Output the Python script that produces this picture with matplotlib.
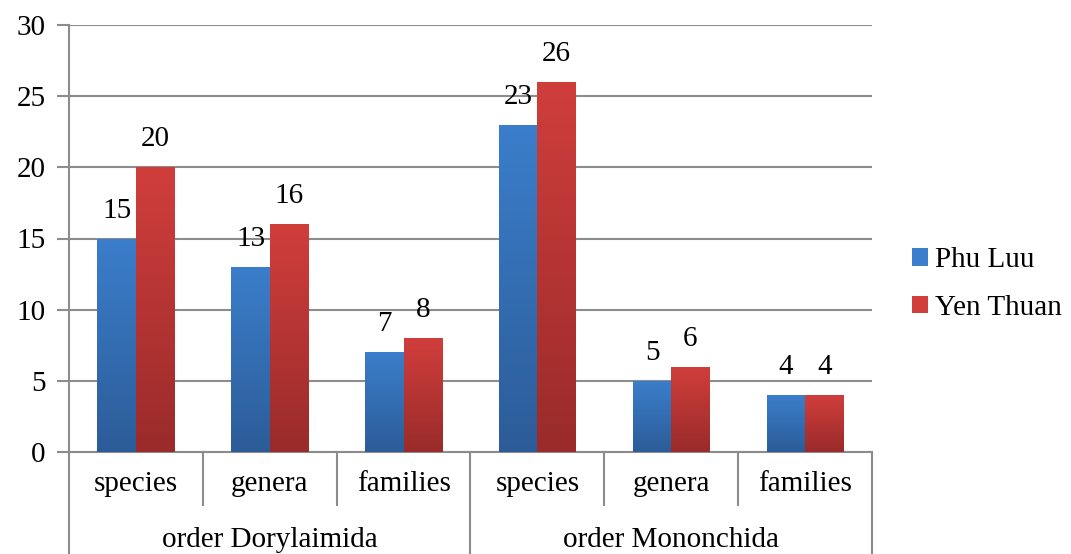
#!/usr/bin/env python3

import matplotlib.pyplot as plt
import numpy as np
from matplotlib.colors import LinearSegmentedColormap
from matplotlib.patches import Patch

plt.rcParams['font.family'] = 'serif'
plt.rcParams['font.serif'] = ['Liberation Serif', 'DejaVu Serif']

SUBCATS = ['species', 'genera', 'families', 'species', 'genera', 'families']
GROUPS = ['order Dorylaimida', 'order Mononchida']
SERIES = ['Phu Luu', 'Yen Thuan']
PHU_LUU = [15, 13, 7, 23, 5, 4]
YEN_THUAN = [20, 16, 8, 26, 6, 4]

# top / bottom colours of the bar gradients
COLORS = [('#3b7ecb', '#2c5c98'), ('#d03e3c', '#992b2a')]
GRID = '#8c8c8c'
FS = 21
FONT = 'Liberation Serif'

fig = plt.figure(figsize=(10.71, 5.54), dpi=100)
ax = fig.add_axes([69 / 1071, 102 / 554, 803 / 1071, 427 / 554])

x = np.arange(len(SUBCATS))
w = 0.2875

grad = np.linspace(0, 1, 256).reshape(-1, 1)
for i, (vals, (top, bot)) in enumerate(zip([PHU_LUU, YEN_THUAN], COLORS)):
    offs = (i - 0.5) * w
    bars = ax.bar(x + offs, vals, w, color='none', edgecolor='none', zorder=3)
    cmap = LinearSegmentedColormap.from_list('g%d' % i, [bot, top])
    for b, v in zip(bars, vals):
        x0, y0 = b.get_x(), b.get_y()
        im = ax.imshow(grad, cmap=cmap, origin='lower', aspect='auto',
                       extent=(x0, x0 + b.get_width(), y0, y0 + b.get_height()),
                       zorder=3)
        im.set_clip_path(b)
        ax.annotate(str(v), (b.get_x() + b.get_width() / 2, v),
                    xytext=(0, 15), textcoords='offset pixels',
                    ha='center', va='bottom', fontsize=FS, family=FONT)
ax.set_xlim(-0.5, len(SUBCATS) - 0.5)
ax.set_ylim(0, 30)

# grid and value axis
ax.set_yticks(np.arange(0, 31, 5))
ax.set_yticklabels([str(t) for t in range(0, 31, 5)], family=FONT)
ax.yaxis.grid(True, color=GRID, linewidth=1.5, zorder=0)
ax.set_axisbelow(True)
ax.tick_params(axis='y', length=9, width=1.5, color=GRID, labelsize=FS, pad=8)
for s in ['top', 'right']:
    ax.spines[s].set_visible(False)
for s in ['left', 'bottom']:
    ax.spines[s].set_color(GRID)
    ax.spines[s].set_linewidth(1.5)

# two-level category axis
ax.set_xticks(x)
ax.set_xticklabels(SUBCATS, fontsize=FS, family=FONT)
ax.tick_params(axis='x', length=0, pad=14)
tr = ax.get_xaxis_transform()
h = ax.get_window_extent().height
for xd in [0.5, 1.5, 3.5, 4.5]:
    ax.plot([xd, xd], [0, -53 / h], color=GRID, lw=1.5,
            transform=tr, clip_on=False)
for xd in [-0.5, 2.5, 5.5]:
    ax.plot([xd, xd], [0, -110 / h], color=GRID, lw=1.5,
            transform=tr, clip_on=False)
for gi, name in enumerate(GROUPS):
    ax.text(gi * 3 + 1, -88 / h, name, transform=tr, ha='center',
            va='center', fontsize=FS, family=FONT)

handles = [Patch(facecolor=c[0], edgecolor='none') for c in COLORS]
fig.legend(handles, SERIES, loc='center left',
           bbox_to_anchor=(897 / 1071, 1 - 284 / 554), frameon=False,
           prop={'family': FONT, 'size': FS}, handlelength=0.55,
           handleheight=0.55, handletextpad=0.25, labelspacing=0.75,
           borderpad=0)

fig.savefig('out.png', dpi=100)
